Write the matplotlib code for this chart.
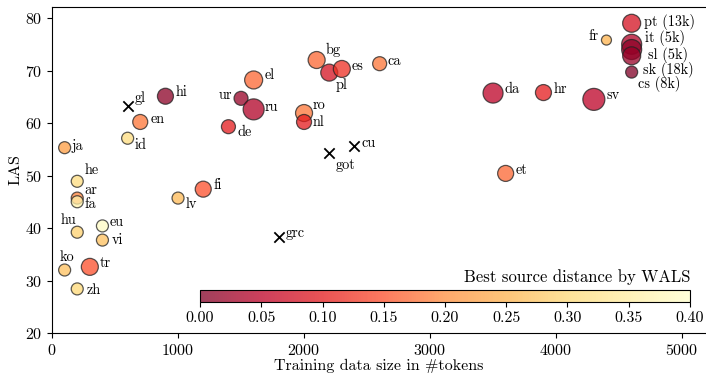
import matplotlib
matplotlib.use("Agg")
import matplotlib.pyplot as plt
import numpy as np

plt.rcParams["font.family"] = ["cmr10", "DejaVu Serif"]
plt.rcParams["axes.formatter.use_mathtext"] = True
plt.rcParams["mathtext.fontset"] = "cm"

# treebanks with a WALS-distance source
langs = ["ja", "he", "ar", "fa", "hu", "eu", "vi", "ko", "tr", "zh",
         "lv", "fi", "id", "en", "hi", "ur", "el", "ru", "de", "ro",
         "nl", "bg", "pl", "es", "ca", "da", "hr", "sv", "et", "fr",
         "pt (13k)", "it (5k)", "sl (5k)", "sk (18k)", "cs (8k)"]
tokens = [100, 200, 200, 200, 200, 400, 400, 100, 300, 200,
          1000, 1200, 600, 700, 900, 1500, 1600, 1600, 1400, 2000,
          2000, 2100, 2200, 2300, 2600, 3500, 3900, 4300, 3600, 4400,
          4600, 4600, 4600, 4600, 4600]
las = [55.3, 48.9, 45.7, 45.0, 39.2, 40.4, 37.7, 32.0, 32.6, 28.4,
       45.7, 47.4, 57.1, 60.2, 65.1, 64.7, 68.2, 62.6, 59.3, 61.9,
       60.2, 72.0, 69.6, 70.3, 71.3, 65.7, 65.8, 64.5, 50.4, 75.8,
       79.0, 75.0, 74.0, 72.8, 69.7]
dist = [0.22, 0.31, 0.19, 0.36, 0.29, 0.39, 0.27, 0.27, 0.15, 0.30,
        0.26, 0.15, 0.31, 0.18, 0.01, 0.02, 0.17, 0.04, 0.10, 0.18,
        0.10, 0.17, 0.08, 0.12, 0.18, 0.05, 0.10, 0.05, 0.17, 0.25,
        0.08, 0.04, 0.01, 0.02, 0.0]
# source treebank size (drives marker area)
src_size = [6, 6, 6, 6, 6, 6, 6, 6, 8.5, 6,
            6, 8, 6, 7.5, 8, 7, 9, 10.5, 7, 8.5,
            7.5, 8.5, 8.5, 8.5, 7, 10, 8, 11, 8, 5,
            9, 10, 10, 9, 6]

# treebanks without a source
x_langs = ["gl", "got", "cu", "grc"]
x_tokens = [600, 2200, 2400, 1800]
x_las = [63.2, 54.2, 55.6, 38.3]

# label offsets in px: (dx, dy, ha)
offs = {
    "ja": (7, 2, "left"), "he": (7, 11, "left"), "ar": (7, 8, "left"),
    "fa": (7, -2, "left"), "hu": (-17, 12, "left"), "eu": (7, 4, "left"),
    "vi": (9, 0, "left"), "ko": (-5, 13, "left"), "tr": (10, 4, "left"),
    "zh": (9, -1, "left"), "lv": (8, -6, "left"), "fi": (10, 4, "left"),
    "id": (7, -7, "left"), "en": (10, 3, "left"), "hi": (10, 4, "left"),
    "ur": (-9, 3, "right"), "el": (11, 5, "left"), "ru": (11, 2, "left"),
    "de": (9, -5, "left"), "ro": (9, 8, "left"), "nl": (9, 0, "left"),
    "bg": (9, 10, "left"), "pl": (6, -13, "left"), "es": (10, 3, "left"),
    "ca": (8, 3, "left"), "da": (11, 4, "left"), "hr": (10, 3, "left"),
    "sv": (13, 4, "left"), "et": (10, 3, "left"), "fr": (-8, 4, "right"),
    "pt (13k)": (12, 1, "left"), "it (5k)": (13, 6, "left"),
    "sl (5k)": (16, -5, "left"), "sk (18k)": (11, -14, "left"),
    "cs (8k)": (6, -12, "left"),
    "gl": (7, 8, "left"), "got": (6, -12, "left"), "cu": (7, 3, "left"),
    "grc": (7, 4, "left"),
}

fig = plt.figure(figsize=(7.06, 3.74), dpi=100)
ax = fig.add_axes([0.0737, 0.1096, 0.9263, 0.8717])

cmap = plt.get_cmap("YlOrRd_r")
norm = matplotlib.colors.Normalize(vmin=0, vmax=0.4)
areas = (np.array(src_size) * 2 * 0.72) ** 2
sc = ax.scatter(tokens, las, s=areas, c=dist, cmap=cmap, norm=norm,
                alpha=0.75, edgecolors="#222222", linewidths=0.9, zorder=3)
ax.scatter(x_tokens, x_las, marker="x", s=55, c="k", linewidths=1.3, zorder=3)

for name, xx, yy in zip(langs + x_langs, tokens + x_tokens, las + x_las):
    dx, dy, ha = offs[name]
    ax.annotate(name, (xx, yy), xytext=(dx * 0.72, dy * 0.72),
                textcoords="offset points", ha=ha, va="center", fontsize=10.3)

ax.set_xlim(0, 5190)
ax.set_ylim(20, 82.1)
ax.set_xticks([0, 1000, 2000, 3000, 4000, 5000])
ax.set_yticks([20, 30, 40, 50, 60, 70, 80])
ax.tick_params(labelsize=11.5)
ax.spines["right"].set_visible(False)
ax.set_xlabel("Training data size in #tokens", fontsize=11.5, labelpad=1)
ax.set_ylabel("LAS", fontsize=11.5, labelpad=2)

cax = fig.add_axes([0.2833, 0.1925, 0.694, 0.032])
sm = matplotlib.cm.ScalarMappable(norm=norm, cmap=cmap)
cb = fig.colorbar(sm, cax=cax, orientation="horizontal", alpha=0.75)
cb.set_ticks(np.arange(0, 0.401, 0.05))
cb.ax.xaxis.set_major_formatter(matplotlib.ticker.FormatStrFormatter("%.2f"))
cb.ax.tick_params(labelsize=11.5)
cax.text(1.0, 1.45, "Best source distance by WALS", transform=cax.transAxes,
         ha="right", va="bottom", fontsize=12)

fig.savefig("out.png", dpi=100)
